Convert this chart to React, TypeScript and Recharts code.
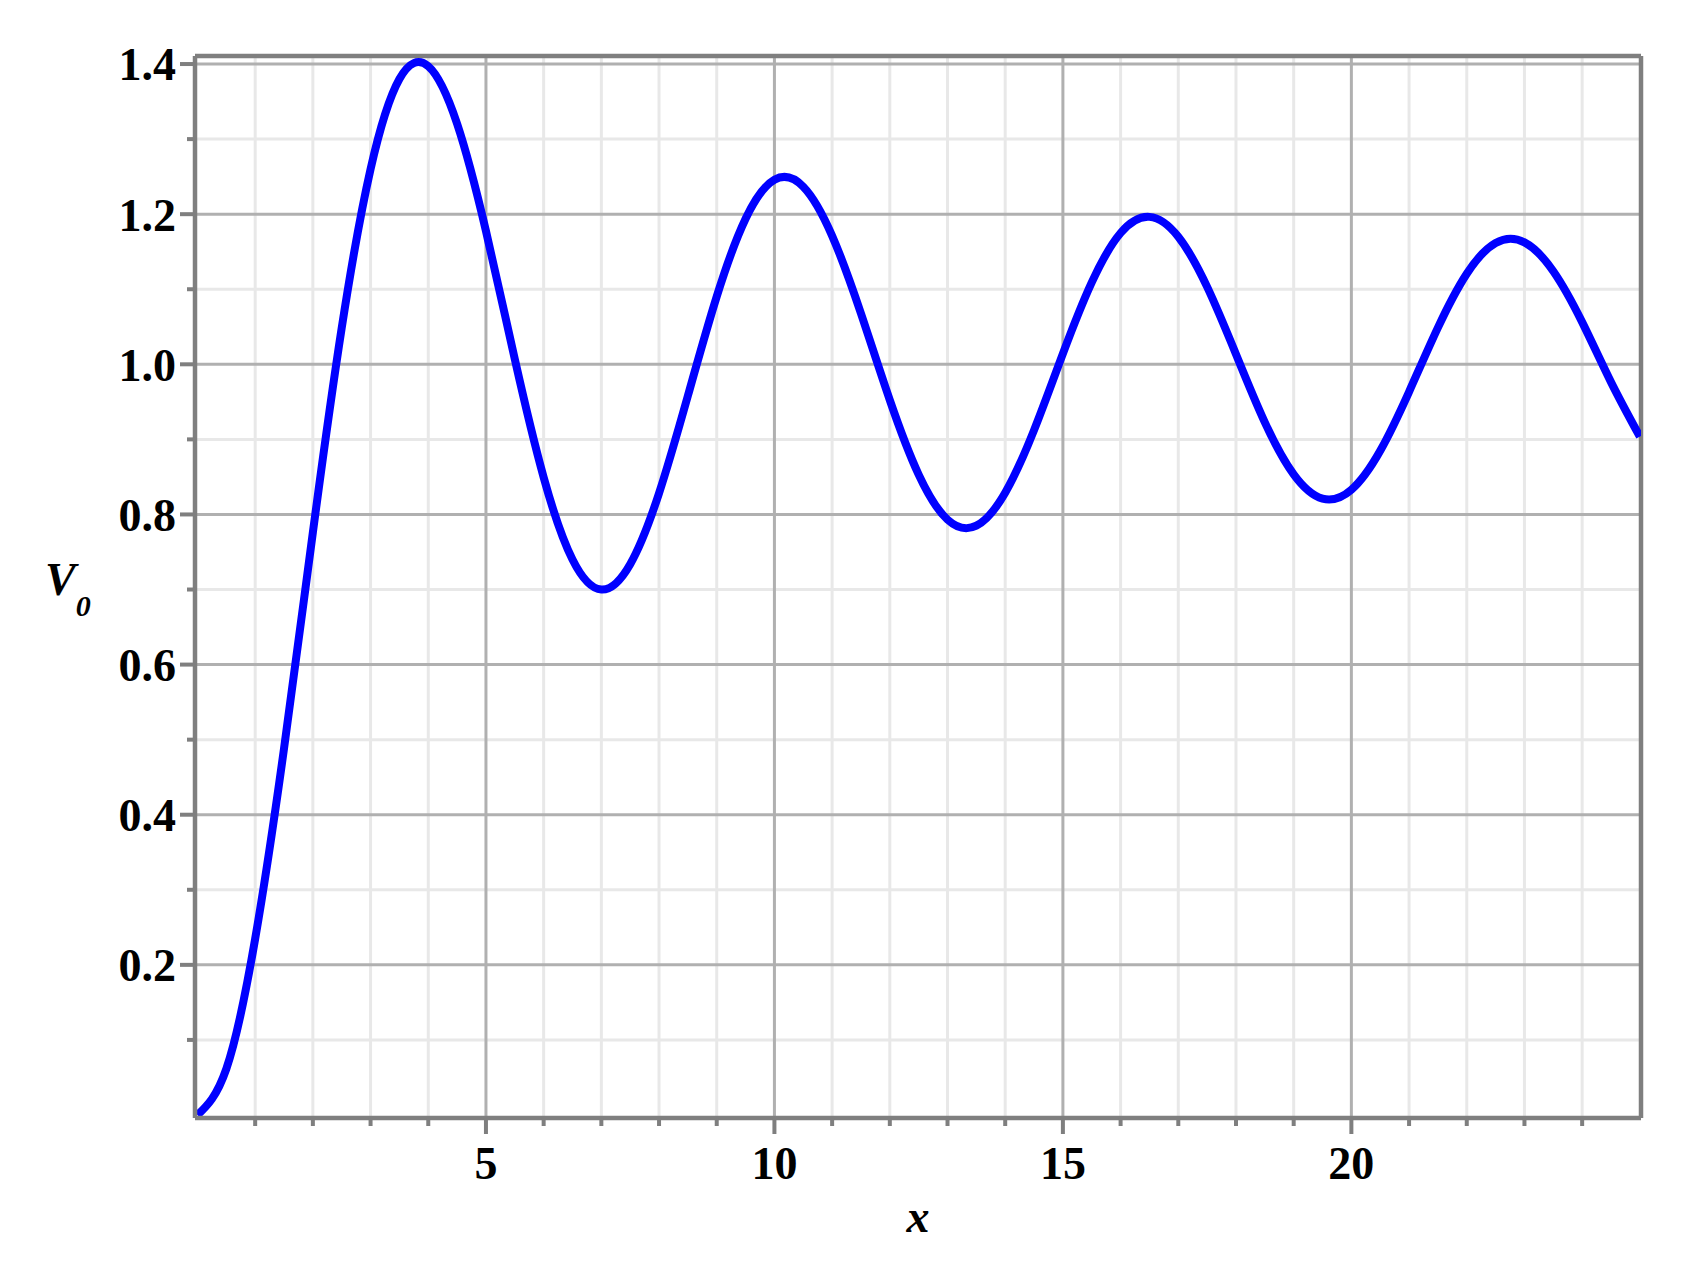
import { LineChart, Line, XAxis, YAxis, ReferenceLine, Label } from "recharts";

// V0 against x, every 0.5
const xValues = [
  0, 0.5, 1, 1.5, 2, 2.5, 3, 3.5, 4, 4.5, 5, 5.5, 6, 6.5, 7, 7.5, 8, 8.5, 9, 9.5,
  10, 10.5, 11, 11.5, 12, 12.5, 13, 13.5, 14, 14.5, 15, 15.5, 16, 16.5, 17, 17.5,
  18, 18.5, 19, 19.5, 20, 20.5, 21, 21.5, 22, 22.5, 23, 23.5, 24, 24.5, 25,
];
const v0Values = [
  0, 0.0615, 0.2348, 0.4882, 0.7761, 1.0484, 1.2601, 1.3801, 1.3971, 1.3205,
  1.1776, 1.0068, 0.8494, 0.7399, 0.6999, 0.7337, 0.8283, 0.9581, 1.0903, 1.1939,
  1.2459, 1.2366, 1.1712, 1.0677, 0.9523, 0.8531, 0.7931, 0.785, 0.8289, 0.9123,
  1.0142, 1.1091, 1.1749, 1.1964, 1.1699, 1.1031, 1.0134, 0.9227, 0.8534, 0.8211,
  0.833, 0.8849, 0.9634, 1.0489, 1.1207, 1.1616, 1.1624, 1.124, 1.0562, 0.9763,
  0.9037,
];

const xMajor = [5, 10, 15, 20];
const xMinor = [1, 2, 3, 4, 6, 7, 8, 9, 11, 12, 13, 14, 16, 17, 18, 19, 21, 22, 23, 24];
const yMajor = [0.2, 0.4, 0.6, 0.8, 1.0, 1.2, 1.4];
const yMinor = [0.1, 0.3, 0.5, 0.7, 0.9, 1.1, 1.3];

const X_DOMAIN: [number, number] = [-0.043, 25.02];
const Y_DOMAIN: [number, number] = [-0.004, 1.4107];

const data = xValues.map((x, i) => ({ x, v: v0Values[i] }));

const FONT = "'Liberation Serif', 'Times New Roman', serif";
const AXIS = "#7f7f7f";
const GRID_MAJOR = "#b0b0b0";
const GRID_MINOR = "#e8e8e8";

const X_TICK = 16;
const X_MARGIN = 12;
const Y_TICK = 15;
const Y_MARGIN = 4;

const XTick = (props: any) => {
  const { x, y, payload } = props;
  const major = xMajor.includes(payload.value);
  const y0 = y - X_TICK - X_MARGIN;
  return (
    <g>
      <line x1={x} x2={x} y1={y0} y2={y0 + (major ? X_TICK : 8)} stroke={AXIS} strokeWidth={4} />
      {major && (
        <text x={x} y={y} dy="0.71em" textAnchor="middle" fontFamily={FONT} fontWeight="bold" fontSize={46} fill="#000">
          {payload.value}
        </text>
      )}
    </g>
  );
};

const YTick = (props: any) => {
  const { x, y, payload } = props;
  const major = yMajor.some((v) => Math.abs(v - payload.value) < 1e-6);
  const x0 = x + Y_TICK + Y_MARGIN;
  return (
    <g>
      <line x1={x0} x2={x0 - (major ? Y_TICK : 8)} y1={y} y2={y} stroke={AXIS} strokeWidth={4} />
      {major && (
        <text x={x} y={y} dy="0.355em" textAnchor="end" fontFamily={FONT} fontWeight="bold" fontSize={46} fill="#000">
          {payload.value.toFixed(1)}
        </text>
      )}
    </g>
  );
};

export default function App() {
  return (
    <div style={{ position: "absolute", left: 0, top: 0, background: "#fff" }}>
      <LineChart width={1685} height={1275} data={data} margin={{ top: 56, right: 44, bottom: 0, left: 0 }}>
        <XAxis
          dataKey="x"
          type="number"
          domain={X_DOMAIN}
          allowDataOverflow
          ticks={[...xMinor, ...xMajor].sort((a, b) => a - b)}
          interval={0}
          height={157}
          tickSize={X_TICK}
          tickMargin={X_MARGIN}
          tickLine={false}
          tick={<XTick />}
          axisLine={{ stroke: AXIS, strokeWidth: 4.5 }}
        >
          <Label
            value="x"
            position="insideBottom"
            offset={43}
            style={{ fontFamily: FONT, fontStyle: "italic", fontWeight: "bold", fontSize: 46, fill: "#000" }}
          />
        </XAxis>
        <YAxis
          type="number"
          domain={Y_DOMAIN}
          allowDataOverflow
          ticks={[...yMinor, ...yMajor].sort((a, b) => a - b)}
          interval={0}
          width={195}
          tickSize={Y_TICK}
          tickMargin={Y_MARGIN}
          tickLine={false}
          tick={<YTick />}
          axisLine={{ stroke: AXIS, strokeWidth: 4.5 }}
          label={{
            content: () => (
              <text x={45} y={595} fontFamily={FONT} fontStyle="italic" fontWeight="bold" fontSize={46} fill="#000">
                V
                <tspan dx={0} dy={21} fontSize={30}>0</tspan>
              </text>
            ),
          }}
        />
        {xMinor.map((v) => (
          <ReferenceLine key={"xm" + v} x={v} stroke={GRID_MINOR} strokeWidth={3} />
        ))}
        {yMinor.map((v) => (
          <ReferenceLine key={"ym" + v} y={v} stroke={GRID_MINOR} strokeWidth={3} />
        ))}
        {xMajor.map((v) => (
          <ReferenceLine key={"xM" + v} x={v} stroke={GRID_MAJOR} strokeWidth={3} />
        ))}
        {yMajor.map((v) => (
          <ReferenceLine key={"yM" + v} y={v} stroke={GRID_MAJOR} strokeWidth={3} />
        ))}
        {/* frame top / right */}
        <ReferenceLine y={Y_DOMAIN[1]} stroke={AXIS} strokeWidth={4.5} />
        <ReferenceLine x={X_DOMAIN[1]} stroke={AXIS} strokeWidth={4.5} />
        <Line
          type="natural"
          dataKey="v"
          stroke="#0000ff"
          strokeWidth={8}
          dot={false}
          activeDot={false}
          isAnimationActive={false}
        />
      </LineChart>
    </div>
  );
}
